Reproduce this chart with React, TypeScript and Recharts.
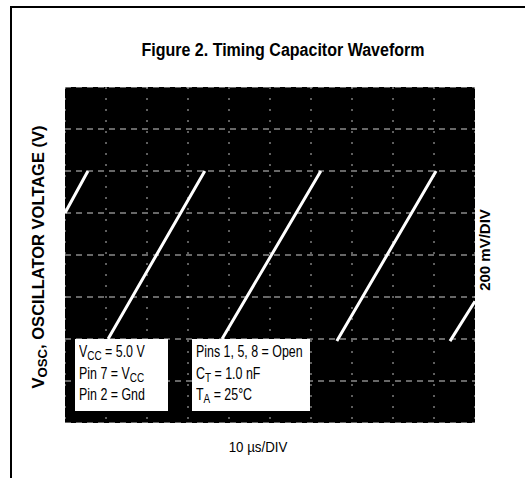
import React from "react"
import { CartesianGrid, Line, LineChart, XAxis, YAxis } from "recharts"

// time base 10 us/div, vertical 200 mV/div (measured from the bottom graticule line)
const timeUs = [0, 5.6, 5.6, 10.5, 34.1, 34.1, 38.3, 62.4, 62.4, 66.3, 90.5, 90.5, 93.9, 100]
const voltMv = [1000, 1200, null, 400, 1200, null, 400, 1200, null, 390, 1200, null, 390, 580]

const xTicks = [0, 10, 20, 30, 40, 50, 60, 70, 80, 90, 100]
const yTicks = [0, 200, 400, 600, 800, 1000, 1200, 1400, 1600]

const data = timeUs.map((t, i) => ({ t, v: voltMv[i] }))

const font = '"Liberation Sans", Arial, sans-serif'

function NoteBox({ left, width, lines }: { left: number; width: number; lines: React.ReactNode[] }) {
  return (
    <div
      style={{
        position: "absolute",
        left,
        top: 339,
        width,
        height: 72,
        background: "#fff",
        boxSizing: "border-box",
        padding: "3px 0 0 4px",
        fontFamily: font,
        fontSize: 17,
        color: "#000",
      }}
    >
      {lines.map((l, i) => (
        <div
          key={i}
          style={{
            height: 21.5,
            lineHeight: "20px",
            whiteSpace: "nowrap",
            transform: "scaleX(0.73)",
            transformOrigin: "left center",
          }}
        >
          {l}
        </div>
      ))}
    </div>
  )
}

const sub = (s: string) => (
  <sub style={{ fontSize: "0.8em", verticalAlign: "-0.25em", lineHeight: 0 }}>{s}</sub>
)

export default function App() {
  return (
    <div
      style={{
        position: "absolute",
        left: 0,
        top: 0,
        width: 525,
        height: 478,
        background: "#fff",
        overflow: "hidden",
      }}
    >
      <div
        style={{
          position: "absolute",
          left: 10,
          top: 6,
          width: 600,
          height: 600,
          borderTop: "2px solid #000",
          borderLeft: "2px solid #000",
        }}
      />
      <div
        style={{
          position: "absolute",
          left: 283,
          top: 50,
          transform: "translate(-50%, -50%) scaleX(0.89)",
          whiteSpace: "nowrap",
          fontFamily: font,
          fontWeight: "bold",
          fontSize: 18,
        }}
      >
        Figure 2. Timing Capacitor Waveform
      </div>

      <div style={{ position: "absolute", left: 65, top: 87 }}>
        <LineChart width={410} height={336} data={data} margin={{ top: 0, right: 0, bottom: 0, left: 0 }}>
          <CartesianGrid fill="#000" vertical={false} stroke="#cfcfcf" strokeDasharray="6 5" />
          <CartesianGrid horizontal={false} stroke="#bdbdbd" strokeDasharray="2 9" />
          <XAxis dataKey="t" type="number" domain={[0, 100]} ticks={xTicks} hide />
          <YAxis type="number" domain={[0, 1600]} ticks={yTicks} hide />
          <Line
            type="linear"
            dataKey="v"
            stroke="#fff"
            strokeWidth={3}
            dot={false}
            connectNulls={false}
            isAnimationActive={false}
          />
        </LineChart>
      </div>

      <NoteBox
        left={75}
        width={93}
        lines={[
          <>V{sub("CC")} = 5.0 V</>,
          <>Pin 7 = V{sub("CC")}</>,
          <>Pin 2 = Gnd</>,
        ]}
      />
      <NoteBox
        left={192}
        width={118}
        lines={[
          <>Pins 1, 5, 8 = Open</>,
          <>C{sub("T")} = 1.0 nF</>,
          <>T{sub("A")} = 25°C</>,
        ]}
      />

      <div
        style={{
          position: "absolute",
          left: 38,
          top: 257,
          transform: "translate(-50%, -50%) rotate(-90deg)",
          whiteSpace: "nowrap",
          fontFamily: font,
          fontWeight: "bold",
          fontSize: 16.5,
        }}
      >
        V{sub("OSC")}, OSCILLATOR VOLTAGE (V)
      </div>
      <div
        style={{
          position: "absolute",
          left: 484,
          top: 250,
          transform: "translate(-50%, -50%) rotate(-90deg)",
          whiteSpace: "nowrap",
          fontFamily: font,
          fontWeight: "bold",
          fontSize: 15,
        }}
      >
        200 mV/DIV
      </div>
      <div
        style={{
          position: "absolute",
          left: 258,
          top: 447,
          transform: "translate(-50%, -50%) scaleX(0.95)",
          whiteSpace: "nowrap",
          fontFamily: font,
          fontSize: 14,
        }}
      >
        10 µs/DIV
      </div>
    </div>
  )
}
